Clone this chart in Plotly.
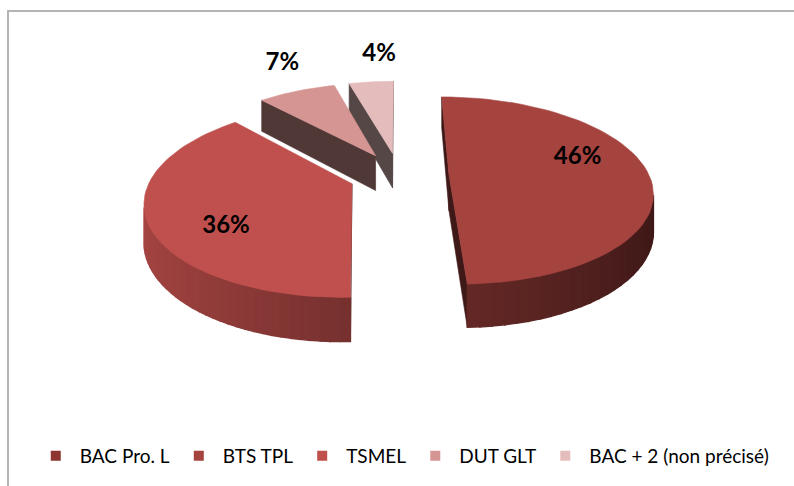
import numpy as np
import plotly.graph_objects as go

# Répartition des diplômes (en %)
categories = ["BAC Pro. L", "BTS TPL", "TSMEL", "DUT GLT", "BAC + 2 (non précisé)"]
shares = [0, 46, 36, 7, 4]
colors = ["#8e3532", "#a5433f", "#c0504d", "#d59592", "#e4bcbb"]

# 3D pie projection parameters (pixel space)
W_PX, H_PX = 794, 486
CX, CY = 399, 175          # centre of the top face
RX, RY = 200, 91           # horizontal / vertical radius
DEPTH = 36                 # slice thickness
PERSP = 0.17               # perspective strength
EXPLODE = 0.25             # radial explosion of every slice


def proj(u, w, z=0.0):
    u = np.asarray(u, dtype=float)
    w = np.asarray(w, dtype=float)
    z = np.asarray(z, dtype=float)
    p = 1.0 / (1.0 + PERSP * w)
    return CX + RX * u * p, CY + (-RY * w + DEPTH * z) * p


def hex_rgb(h):
    h = h.lstrip("#")
    return tuple(int(h[i:i + 2], 16) for i in (0, 2, 4))


def shade(h, f):
    r, g, b = hex_rgb(h)
    return "rgb(%d,%d,%d)" % (min(255, r * f), min(255, g * f), min(255, b * f))


def poly(fig, xs, ys, color, lw=0.6):
    xs = list(xs) + [xs[0]]
    ys = list(ys) + [ys[0]]
    fig.add_trace(go.Scatter(
        x=xs, y=ys, mode="lines", fill="toself", fillcolor=color,
        line=dict(color=color, width=lw), hoverinfo="skip", showlegend=False))


fig = go.Figure()

total = float(sum(shares))
cam_w = -1.0 / PERSP
slices = []
start = 0.0
for name, val, col in zip(categories, shares, colors):
    span = 2 * np.pi * val / total
    if val > 0:
        bis = start + span / 2
        slices.append(dict(name=name, val=val, col=col, t0=start, t1=start + span,
                           bis=bis, ou=EXPLODE * np.sin(bis), ow=EXPLODE * np.cos(bis)))
    start += span

# farthest slices first
for s in sorted(slices, key=lambda d: -d["ow"]):
    ou, ow, col = s["ou"], s["ow"], s["col"]
    th = np.linspace(s["t0"], s["t1"], 60)

    # radial side faces, drawn only when they face the viewer
    for edge, nang in ((s["t0"], s["t0"] - np.pi / 2), (s["t1"], s["t1"] + np.pi / 2)):
        nu, nw = np.sin(nang), np.cos(nang)
        if nu * (0 - ou) + nw * (cam_w - ow) > 0:
            eu, ew = ou + np.sin(edge), ow + np.cos(edge)
            x1, y1 = proj([ou, eu, eu, ou], [ow, ew, ew, ow], [0, 0, 1, 1])
            poly(fig, x1, y1, shade(col, 0.38))

    # curved outer wall, split in strips for a horizontal gradient
    vis = -ou * np.sin(th) - (1.0 / PERSP + ow) * np.cos(th) - 1 > 0
    for i in range(len(th) - 1):
        if vis[i] and vis[i + 1]:
            a, b = th[i], th[i + 1]
            us = [ou + np.sin(a), ou + np.sin(b), ou + np.sin(b), ou + np.sin(a)]
            ws = [ow + np.cos(a), ow + np.cos(b), ow + np.cos(b), ow + np.cos(a)]
            xw, yw = proj(us, ws, [0, 0, 1, 1])
            f = 0.62 - 0.25 * np.sin((a + b) / 2)
            poly(fig, xw, yw, shade(col, f), lw=1.4)

    # top face
    us = np.concatenate([[ou], ou + np.sin(th)])
    ws = np.concatenate([[ow], ow + np.cos(th)])
    xt, yt = proj(us, ws)
    poly(fig, xt, yt, col)

# percentage labels
lx, ly, lt = [], [], []
for s in slices:
    if s["val"] >= 10:
        ang, r = s["bis"] - np.radians(15), 0.7
    else:
        ang, r = s["bis"] + np.radians(4), 1.45
    x, y = proj(s["ou"] + r * np.sin(ang), s["ow"] + r * np.cos(ang))
    lx.append(float(x))
    ly.append(float(y))
    lt.append("%d%%" % s["val"])
fig.add_trace(go.Scatter(
    x=lx, y=ly, text=lt, mode="text", hoverinfo="skip", showlegend=False,
    textfont=dict(family="Lato", size=24, color="#000000", weight="bold")))

# legend entries
for name, col in zip(categories, colors):
    fig.add_trace(go.Scatter(
        x=[None], y=[None], mode="markers", name=name,
        marker=dict(symbol="square", size=10, color=col)))

fig.update_layout(
    width=W_PX, height=H_PX,
    margin=dict(l=0, r=0, t=0, b=0),
    paper_bgcolor="#ffffff", plot_bgcolor="#ffffff",
    xaxis=dict(range=[0, W_PX], visible=False, fixedrange=True),
    yaxis=dict(range=[H_PX, 0], visible=False, fixedrange=True),
    showlegend=True,
    legend=dict(orientation="h", x=0.04, y=0.062, xanchor="left", yanchor="middle",
                itemsizing="trace", itemwidth=38, traceorder="normal",
                font=dict(family="Lato", size=19, color="#000000"),
                bgcolor="rgba(0,0,0,0)"),
    shapes=[dict(type="rect", xref="x", yref="y", x0=8, y0=11, x1=W_PX + 10, y1=H_PX + 10,
                 line=dict(color="#b4b4b4", width=2), layer="below")],
)

fig.write_html("out.html")
